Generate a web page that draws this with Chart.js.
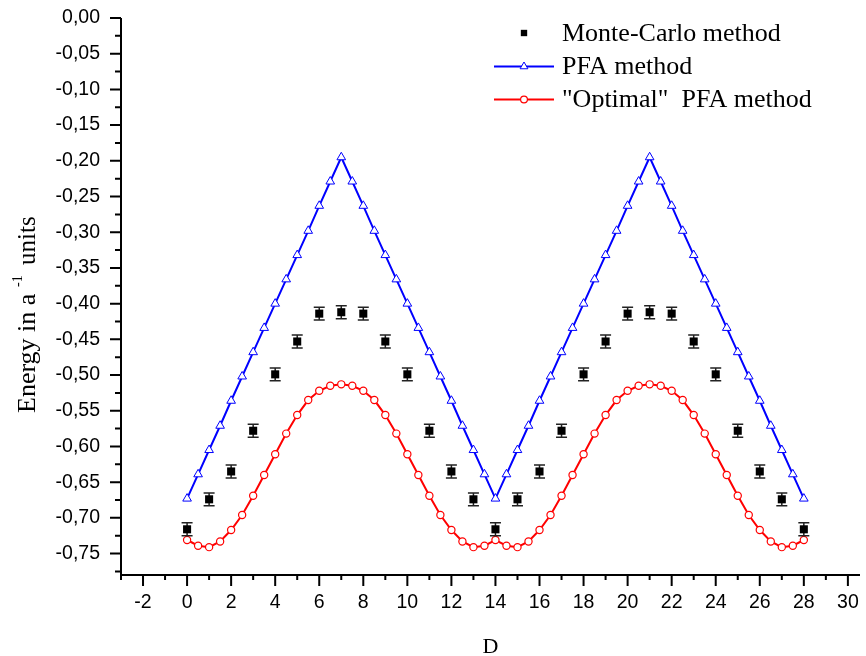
<!DOCTYPE html>
<html lang="en">
<head>
<meta charset="UTF-8">
<script src="https://cdn.jsdelivr.net/npm/chart.js@4.4.1/dist/chart.umd.min.js"></script>
<title>Energy vs D</title>
<style>
  body { margin: 0; background: #fff; }
  canvas { display: block; }
</style>
</head>
<body>
<canvas id="chart" width="866" height="656"></canvas>
<script>
// D values for the two curves (every half step)
const dHalf = [0, 0.5, 1, 1.5, 2, 2.5, 3, 3.5, 4, 4.5, 5, 5.5, 6, 6.5, 7, 7.5, 8, 8.5, 9, 9.5,
  10, 10.5, 11, 11.5, 12, 12.5, 13, 13.5, 14, 14.5, 15, 15.5, 16, 16.5, 17, 17.5, 18, 18.5, 19, 19.5,
  20, 20.5, 21, 21.5, 22, 22.5, 23, 23.5, 24, 24.5, 25, 25.5, 26, 26.5, 27, 27.5, 28];

const pfa = [-0.673, -0.639, -0.605, -0.571, -0.536, -0.502, -0.468, -0.434, -0.400, -0.366, -0.332, -0.298, -0.263, -0.229, -0.195,
  -0.229, -0.263, -0.298, -0.332, -0.366, -0.400, -0.434, -0.468, -0.502, -0.536, -0.571, -0.605, -0.639, -0.673,
  -0.639, -0.605, -0.571, -0.536, -0.502, -0.468, -0.434, -0.400, -0.366, -0.332, -0.298, -0.263, -0.229, -0.195,
  -0.229, -0.263, -0.298, -0.332, -0.366, -0.400, -0.434, -0.468, -0.502, -0.536, -0.571, -0.605, -0.639, -0.673];

const optimal = [-0.731, -0.739, -0.741, -0.733, -0.717, -0.696, -0.669, -0.640, -0.611, -0.582, -0.556, -0.535, -0.522, -0.515, -0.513,
  -0.515, -0.522, -0.535, -0.556, -0.582, -0.611, -0.640, -0.669, -0.696, -0.717, -0.733, -0.741, -0.739, -0.731,
  -0.739, -0.741, -0.733, -0.717, -0.696, -0.669, -0.640, -0.611, -0.582, -0.556, -0.535, -0.522, -0.515, -0.513,
  -0.515, -0.522, -0.535, -0.556, -0.582, -0.611, -0.640, -0.669, -0.696, -0.717, -0.733, -0.741, -0.739, -0.731];

// Monte-Carlo points (integer D)
const dInt = [0, 1, 2, 3, 4, 5, 6, 7, 8, 9, 10, 11, 12, 13, 14, 15, 16, 17, 18, 19, 20, 21, 22, 23, 24, 25, 26, 27, 28];
const monteCarlo = [-0.716, -0.674, -0.635, -0.578, -0.499, -0.453, -0.414, -0.412, -0.414, -0.453, -0.499, -0.578, -0.635, -0.674, -0.716,
  -0.674, -0.635, -0.578, -0.499, -0.453, -0.414, -0.412, -0.414, -0.453, -0.499, -0.578, -0.635, -0.674, -0.716];
const mcError = [0.009, 0.009, 0.009, 0.009, 0.009, 0.009, 0.009, 0.009, 0.009, 0.009, 0.009, 0.009, 0.009, 0.009, 0.009,
  0.009, 0.009, 0.009, 0.009, 0.009, 0.009, 0.009, 0.009, 0.009, 0.009, 0.009, 0.009, 0.009, 0.009];

const xTicks = [-2, 0, 2, 4, 6, 8, 10, 12, 14, 16, 18, 20, 22, 24, 26, 28, 30];
const yTicks = [0, -0.05, -0.10, -0.15, -0.20, -0.25, -0.30, -0.35, -0.40, -0.45, -0.50, -0.55, -0.60, -0.65, -0.70, -0.75];

const legendLabels = ['Monte-Carlo method', 'PFA method', '"Optimal"  PFA method'];

const serif = '"Liberation Serif", "Times New Roman", serif';
const sans = '"Liberation Sans", Arial, sans-serif';

// error bars under the squares
const errorBars = {
  id: 'errorBars',
  beforeDatasetDraw(chart, args) {
    if (args.index !== 0) return;
    const {ctx, scales: {y}} = chart;
    const meta = chart.getDatasetMeta(0);
    ctx.save();
    ctx.strokeStyle = '#222';
    ctx.lineWidth = 1.5;
    meta.data.forEach((pt, i) => {
      const top = y.getPixelForValue(monteCarlo[i] + mcError[i]);
      const bot = y.getPixelForValue(monteCarlo[i] - mcError[i]);
      ctx.beginPath();
      ctx.moveTo(pt.x, top); ctx.lineTo(pt.x, bot);
      ctx.moveTo(pt.x - 5.5, top); ctx.lineTo(pt.x + 5.5, top);
      ctx.moveTo(pt.x - 5.5, bot); ctx.lineTo(pt.x + 5.5, bot);
      ctx.stroke();
    });
    ctx.restore();
  }
};

// axis lines with major / minor ticks, Origin style
const axes = {
  id: 'axes',
  afterDraw(chart) {
    const {ctx, chartArea: a, scales: {x, y}} = chart;
    ctx.save();
    ctx.strokeStyle = '#000';
    ctx.lineWidth = 2;
    ctx.beginPath();
    ctx.moveTo(a.left, a.top);
    ctx.lineTo(a.left, a.bottom);
    ctx.lineTo(a.right, a.bottom);
    ctx.stroke();

    ctx.beginPath();
    for (let v = Math.ceil(x.min); v <= x.max; v++) {
      const px = x.getPixelForValue(v);
      const len = v % 2 === 0 ? 11 : 5;
      ctx.moveTo(px, a.bottom);
      ctx.lineTo(px, a.bottom + len);
    }
    for (let k = 0; -k * 0.025 >= y.min; k++) {
      const py = y.getPixelForValue(-k * 0.025);
      const len = k % 2 === 0 ? 11 : 6;
      ctx.moveTo(a.left, py);
      ctx.lineTo(a.left - len, py);
    }
    ctx.stroke();

    // axis titles
    ctx.fillStyle = '#000';
    ctx.textBaseline = 'alphabetic';
    ctx.font = '22px ' + serif;
    ctx.textAlign = 'center';
    ctx.fillText('D', (a.left + a.right) / 2, 653);

    ctx.save();
    ctx.translate(35, 413);
    ctx.rotate(-Math.PI / 2);
    ctx.textAlign = 'left';
    ctx.font = '26px ' + serif;
    ctx.fillText('Energy in a', 0, 0);
    ctx.font = '14px ' + serif;
    ctx.fillText('-1', 126, -13);
    ctx.font = '25px ' + serif;
    ctx.fillText('units', 148, 0);
    ctx.restore();

    // legend
    const H = Chart.helpers;
    const rows = [33, 66.5, 99.5];
    ctx.font = '26px ' + serif;
    ctx.textAlign = 'left';
    ctx.textBaseline = 'middle';
    chart.data.datasets.forEach((ds, i) => {
      const cy = rows[i];
      if (ds.showLine !== false) {
        ctx.strokeStyle = ds.borderColor;
        ctx.lineWidth = 2;
        ctx.beginPath();
        ctx.moveTo(494, cy); ctx.lineTo(554, cy);
        ctx.stroke();
      }
      ctx.fillStyle = ds.pointBackgroundColor;
      ctx.strokeStyle = ds.pointBorderColor;
      ctx.lineWidth = ds.pointBorderWidth;
      H.drawPoint(ctx, {pointStyle: ds.pointStyle, radius: ds.legendRadius, borderWidth: ds.pointBorderWidth, rotation: 0}, 524, cy);
      ctx.fillStyle = '#000';
      ctx.fillText(legendLabels[i], 562, cy + 1);
    });
    ctx.restore();
  }
};

const ctx = document.getElementById('chart').getContext('2d');
const myChart = new Chart(ctx, {
  type: 'line',
  data: {
    datasets: [
      {
        label: legendLabels[0],
        data: dInt.map((d, i) => ({x: d, y: monteCarlo[i]})),
        showLine: false,
        pointStyle: 'rect',
        pointRadius: 5.7,
        legendRadius: 4.5,
        pointBackgroundColor: '#000',
        pointBorderColor: '#000',
        pointBorderWidth: 0
      },
      {
        label: legendLabels[1],
        data: dHalf.map((d, i) => ({x: d, y: pfa[i]})),
        borderColor: '#0000ff',
        borderWidth: 2,
        pointStyle: 'triangle',
        pointRadius: 5,
        legendRadius: 4.5,
        pointBackgroundColor: '#fff',
        pointBorderColor: '#0000ff',
        pointBorderWidth: 1,
        tension: 0
      },
      {
        label: legendLabels[2],
        data: dHalf.map((d, i) => ({x: d, y: optimal[i]})),
        borderColor: '#ff0000',
        borderWidth: 2,
        pointStyle: 'circle',
        pointRadius: 3.6,
        legendRadius: 3.4,
        pointBackgroundColor: '#fff',
        pointBorderColor: '#ff0000',
        pointBorderWidth: 1.2,
        tension: 0
      }
    ]
  },
  options: {
    responsive: false,
    animation: false,
    devicePixelRatio: 1,
    layout: {padding: {top: 18, left: 0, right: 0, bottom: 0}},
    plugins: {legend: {display: false}, tooltip: {enabled: false}},
    scales: {
      x: {
        type: 'linear',
        min: -3,
        max: 30.55,
        grid: {display: false, drawTicks: false},
        border: {display: false},
        afterBuildTicks: s => { s.ticks = xTicks.map(v => ({value: v})); },
        afterFit: s => { s.height = 81; s.paddingLeft = 0; s.paddingRight = 0; },
        ticks: {
          color: '#000',
          font: {family: sans, size: 19.5},
          padding: 16,
          maxRotation: 0,
          autoSkip: false,
          callback: v => String(v)
        }
      },
      y: {
        type: 'linear',
        min: -0.78,
        max: 0,
        grid: {display: false, drawTicks: false},
        border: {display: false},
        afterBuildTicks: s => { s.ticks = yTicks.map(v => ({value: v})); },
        afterFit: s => { s.width = 121; s.paddingTop = 0; s.paddingBottom = 0; },
        ticks: {
          color: '#000',
          font: {family: sans, size: 19.5},
          padding: 21,
          autoSkip: false,
          callback: v => v.toFixed(2).replace('.', ',')
        }
      }
    }
  },
  plugins: [errorBars, axes]
});
</script>
</body>
</html>
